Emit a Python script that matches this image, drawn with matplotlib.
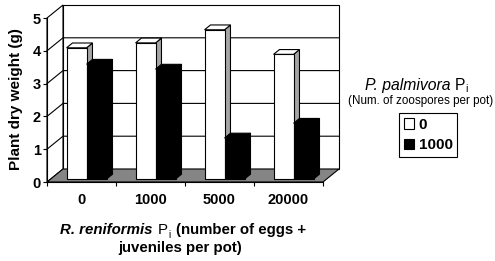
import matplotlib.pyplot as plt
from matplotlib.patches import Polygon, Patch

# data
categories = ['0', '1000', '5000', '20000']
weight_p0 = [4.0, 4.15, 4.55, 3.8]
weight_p1000 = [3.5, 3.35, 1.25, 1.7]
legend_labels = ['0', '1000']
y_ticks = [0, 1, 2, 3, 4, 5]

plt.rcParams['font.family'] = ['Liberation Sans', 'DejaVu Sans']

W, H = 495, 261
fig = plt.figure(figsize=(W / 100, H / 100), dpi=100)
ax = fig.add_axes([47 / W, 1 - 182 / H, 292 / W, 177 / H])

DX = 16 / 69     # depth offset, x units
DY = 13 / 32.8   # depth offset, y units
x0, x1 = -0.5, len(categories) - 0.5
ytop = max(y_ticks)
LW = 0.8


def face(pts, fc, z=1, ec='black'):
    xy = [(x + d * DX, y + d * DY) for x, y, d in pts]
    ax.add_patch(Polygon(xy, closed=True, facecolor=fc, edgecolor=ec, lw=LW, zorder=z, clip_on=False))


# walls and floor
face([(x0, 0, 1), (x1, 0, 1), (x1, ytop, 1), (x0, ytop, 1)], 'white')
face([(x0, 0, 0), (x0, 0, 1), (x0, ytop, 1), (x0, ytop, 0)], 'white')
for k in y_ticks[1:-1]:
    ax.plot([x0, x0 + DX, x1 + DX], [k, k + DY, k + DY], color='black', lw=LW, zorder=1.5, clip_on=False)
face([(x0, 0, 0), (x1, 0, 0), (x1, 0, 1), (x0, 0, 1)], '#858585', z=2)

# bars
z0, z1 = 0.23, 0.6
bw = 0.29
for i in range(len(categories)):
    for xl, v, fc, sc in [(i - 0.27, weight_p0[i], 'white', '#a6a6a6'),
                          (i + 0.02, weight_p1000[i], 'black', 'black')]:
        xr = xl + bw
        face([(xr, 0, z0), (xr, 0, z1), (xr, v, z1), (xr, v, z0)], sc, z=3)
        face([(xl, v, z0), (xr, v, z0), (xr, v, z1), (xl, v, z1)], fc, z=3)
        face([(xl, 0, z0), (xr, 0, z0), (xr, v, z0), (xl, v, z0)], fc, z=3)

ax.set_xlim(x0, x1 + DX)
ax.set_ylim(0, ytop + DY)
ax.patch.set_visible(False)
for s in ['top', 'right']:
    ax.spines[s].set_visible(False)
ax.spines['left'].set_bounds(0, ytop)
ax.spines['bottom'].set_bounds(x0, x1)
for s in ['left', 'bottom']:
    ax.spines[s].set_linewidth(LW)
    ax.spines[s].set_zorder(4)

ax.set_yticks(y_ticks)
ax.set_yticklabels([str(t) for t in y_ticks], fontweight='bold', fontsize=10.5)
ax.tick_params(axis='y', direction='out', length=3, width=LW, pad=1.5)
ax.set_xticks([i - 0.5 for i in range(len(categories) + 1)])
ax.set_xticklabels([])
ax.set_xticks(range(len(categories)), minor=True)
ax.set_xticklabels(categories, minor=True, fontweight='bold', fontsize=10.5)
ax.tick_params(axis='x', which='major', direction='out', length=3, width=LW)
ax.tick_params(axis='x', which='minor', length=0, pad=8)

fig.text(16 / W, 1 - 99 / H, 'Plant dry weight (g)', rotation=90, ha='center', va='center',
         fontweight='bold', fontsize=11)


def chain(prev, s, gap, dy=0, **kw):
    return ax.annotate(s, xy=(1, 0), xycoords=prev, xytext=(gap, dy), textcoords='offset points',
                       ha='left', va='bottom', annotation_clip=False, **kw)


# x axis title, built from pieces
t = fig.text(60 / W, 1 - 234 / H, 'R. reniformis', ha='left', va='baseline',
             fontweight='bold', fontstyle='italic', fontsize=10.8)
p = chain(t, 'P', 4, fontsize=10.8)
chain(p, 'i', 0.3, -2, fontsize=7)
chain(p, '(number of eggs +', 6, fontweight='bold', fontsize=10.8)
fig.text(180 / W, 1 - 252 / H, 'juveniles per pot)', ha='center', va='baseline',
         fontweight='bold', fontsize=10.8)

# legend
t = fig.text(365 / W, 1 - 90 / H, 'P. palmivora', ha='left', va='baseline', fontstyle='italic', fontsize=11.3)
p = chain(t, 'P', 3, fontsize=11.3)
chain(p, 'i', 0.3, -1, fontsize=7.5)
fig.text(420.5 / W, 1 - 101 / H, '(Num. of zoospores per pot)', ha='center', va='center', fontsize=8.4)
handles = [Patch(facecolor='white', edgecolor='black', lw=LW),
           Patch(facecolor='black', edgecolor='black', lw=LW)]
leg = fig.legend(handles, legend_labels, loc='upper left', bbox_to_anchor=(399 / W, 1 - 113 / H),
                 fancybox=False, edgecolor='black', framealpha=1, borderpad=0.3,
                 handlelength=0.7, handleheight=0.7, handletextpad=0.3, labelspacing=0.45,
                 borderaxespad=0, prop={'weight': 'bold', 'size': 11})
leg.get_frame().set_linewidth(LW)

fig.savefig('out.png', dpi=100)
